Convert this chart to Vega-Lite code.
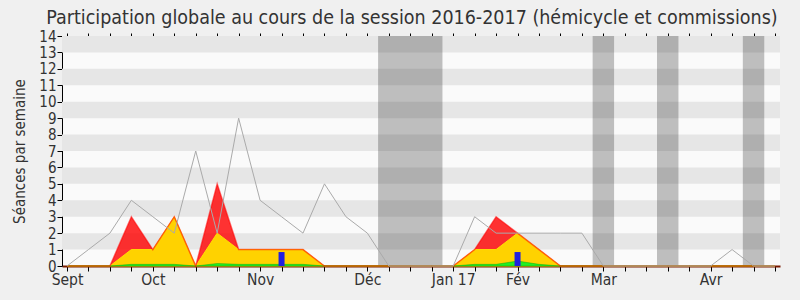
{
  "$schema": "https://vega.github.io/schema/vega-lite/v6.json",
  "autosize": "none",
  "width": 718,
  "height": 230,
  "padding": {"left": 62, "top": 36, "right": 20, "bottom": 34},
  "background": "#f0f0f0",
  "config": {
    "font": "DejaVu Sans Condensed, DejaVu Sans",
    "view": {"fill": "#fafafa", "stroke": null}
  },
  "title": {
    "text": "Participation globale au cours de la session 2016-2017 (hémicycle et commissions)",
    "font": "DejaVu Sans Condensed, DejaVu Sans",
    "fontSize": 19.5,
    "fontWeight": "normal",
    "color": "#333333",
    "anchor": "middle",
    "frame": "group",
    "offset": 1,
    "dx": -9
  },
  "datasets": {
    "semaines": [
      {"semaine": 0, "presence": 0, "commission": 0, "interventions": 0, "questions": 0, "mediane": 0},
      {"semaine": 1, "presence": 0, "commission": 0, "interventions": 0, "questions": 0, "mediane": 1},
      {"semaine": 2, "presence": 0, "commission": 0, "interventions": 0, "questions": 0, "mediane": 2},
      {"semaine": 3, "presence": 3, "commission": 1, "interventions": 0.1, "questions": 0, "mediane": 4},
      {"semaine": 4, "presence": 1, "commission": 1, "interventions": 0.1, "questions": 0, "mediane": 3},
      {"semaine": 5, "presence": 3, "commission": 3, "interventions": 0.1, "questions": 0, "mediane": 2},
      {"semaine": 6, "presence": 0, "commission": 0, "interventions": 0, "questions": 0, "mediane": 7},
      {"semaine": 7, "presence": 5, "commission": 2, "interventions": 0.15, "questions": 0, "mediane": 2},
      {"semaine": 8, "presence": 1, "commission": 1, "interventions": 0.1, "questions": 0, "mediane": 9},
      {"semaine": 9, "presence": 1, "commission": 1, "interventions": 0.1, "questions": 0, "mediane": 4},
      {"semaine": 10, "presence": 1, "commission": 1, "interventions": 0.1, "questions": 0.85, "mediane": 3},
      {"semaine": 11, "presence": 1, "commission": 1, "interventions": 0.1, "questions": 0, "mediane": 2},
      {"semaine": 12, "presence": 0, "commission": 0, "interventions": 0, "questions": 0, "mediane": 5},
      {"semaine": 13, "presence": 0, "commission": 0, "interventions": 0, "questions": 0, "mediane": 3},
      {"semaine": 14, "presence": 0, "commission": 0, "interventions": 0, "questions": 0, "mediane": 2},
      {"semaine": 15, "presence": 0, "commission": 0, "interventions": 0, "questions": 0, "mediane": 0},
      {"semaine": 16, "presence": 0, "commission": 0, "interventions": 0, "questions": 0, "mediane": 0},
      {"semaine": 17, "presence": 0, "commission": 0, "interventions": 0, "questions": 0, "mediane": 0},
      {"semaine": 18, "presence": 0, "commission": 0, "interventions": 0, "questions": 0, "mediane": 0},
      {"semaine": 19, "presence": 1, "commission": 1, "interventions": 0.1, "questions": 0, "mediane": 3},
      {"semaine": 20, "presence": 3, "commission": 1, "interventions": 0.1, "questions": 0, "mediane": 2},
      {"semaine": 21, "presence": 2, "commission": 2, "interventions": 0.3, "questions": 0.85, "mediane": 2},
      {"semaine": 22, "presence": 1, "commission": 1, "interventions": 0.1, "questions": 0, "mediane": 2},
      {"semaine": 23, "presence": 0, "commission": 0, "interventions": 0, "questions": 0, "mediane": 2},
      {"semaine": 24, "presence": 0, "commission": 0, "interventions": 0, "questions": 0, "mediane": 2},
      {"semaine": 25, "presence": 0, "commission": 0, "interventions": 0, "questions": 0, "mediane": 0},
      {"semaine": 26, "presence": 0, "commission": 0, "interventions": 0, "questions": 0, "mediane": 0},
      {"semaine": 27, "presence": 0, "commission": 0, "interventions": 0, "questions": 0, "mediane": 0},
      {"semaine": 28, "presence": 0, "commission": 0, "interventions": 0, "questions": 0, "mediane": 0},
      {"semaine": 29, "presence": 0, "commission": 0, "interventions": 0, "questions": 0, "mediane": 0},
      {"semaine": 30, "presence": 0, "commission": 0, "interventions": 0, "questions": 0, "mediane": 0},
      {"semaine": 31, "presence": 0, "commission": 0, "interventions": 0, "questions": 0, "mediane": 1},
      {"semaine": 32, "presence": 0, "commission": 0, "interventions": 0, "questions": 0, "mediane": 0},
      {"semaine": 33, "presence": 0, "commission": 0, "interventions": 0, "questions": 0, "mediane": 0}
    ],
    "bandes": [
      {"bas": 1, "haut": 2}, {"bas": 3, "haut": 4}, {"bas": 5, "haut": 6},
      {"bas": 7, "haut": 8}, {"bas": 9, "haut": 10}, {"bas": 11, "haut": 12},
      {"bas": 13, "haut": 14}
    ],
    "vacances": [
      {"debut": 14.5, "fin": 17.5},
      {"debut": 24.5, "fin": 25.5},
      {"debut": 27.5, "fin": 28.5},
      {"debut": 31.5, "fin": 32.5}
    ]
  },
  "resolve": {"scale": {"x": "shared", "y": "shared"}, "axis": {"x": "independent", "y": "independent"}},
  "layer": [
    {
      "data": {"name": "bandes"},
      "mark": {"type": "rect", "fill": "#e6e6e6"},
      "encoding": {
        "y": {
          "field": "bas", "type": "quantitative",
          "scale": {"domain": [0, 14], "nice": false, "zero": true},
          "axis": {
            "values": [0, 1, 2, 3, 4, 5, 6, 7, 8, 9, 10, 11, 12, 13, 14],
            "title": "Séances par semaine",
            "titleFont": "DejaVu Sans Condensed, DejaVu Sans",
            "titleFontSize": 15,
            "titleFontWeight": "normal",
            "titleColor": "#333333",
            "titlePadding": 11,
            "labelFont": "DejaVu Sans Condensed, DejaVu Sans",
            "labelFontSize": 15,
            "labelColor": "#333333",
            "labelPadding": 1,
            "labelOverlap": false,
            "labelFlush": false,
            "tickColor": "#000000",
            "tickSize": 5,
            "domainColor": "#000000",
            "grid": false
          }
        },
        "y2": {"field": "haut"}
      }
    },
    {
      "data": {"name": "vacances"},
      "mark": {"type": "rect", "fill": "#000000", "opacity": 0.24},
      "encoding": {
        "x": {
          "field": "debut", "type": "quantitative",
          "scale": {"domain": [0, 33], "nice": false, "zero": false},
          "axis": {
            "orient": "top",
            "values": [0, 1, 2, 3, 4, 5, 6, 7, 8, 9, 10, 11, 12, 13, 14, 15, 16, 17, 18, 19, 20, 21, 22, 23, 24, 25, 26, 27, 28, 29, 30, 31, 32, 33],
            "labels": false,
            "domain": false,
            "grid": false,
            "title": null,
            "tickColor": "#000000",
            "tickSize": 3
          }
        },
        "x2": {"field": "fin"}
      }
    },
    {
      "data": {"name": "semaines"},
      "mark": {"type": "area", "fill": "#ff0000", "fillOpacity": 0.8},
      "encoding": {
        "x": {
          "field": "semaine", "type": "quantitative",
          "scale": {"domain": [0, 33], "nice": false, "zero": false},
          "axis": {
            "orient": "bottom",
            "values": [0, 1, 2, 3, 4, 5, 6, 7, 8, 9, 10, 11, 12, 13, 14, 15, 16, 17, 18, 19, 20, 21, 22, 23, 24, 25, 26, 27, 28, 29, 30, 31, 32, 33],
            "labelExpr": "datum.value == 0 ? 'Sept' : datum.value == 4 ? 'Oct' : datum.value == 9 ? 'Nov' : datum.value == 14 ? 'Déc' : datum.value == 18 ? 'Jan 17' : datum.value == 21 ? 'Fév' : datum.value == 25 ? 'Mar' : datum.value == 30 ? 'Avr' : ''",
            "labelFont": "DejaVu Sans Condensed, DejaVu Sans",
            "labelFontSize": 15.5,
            "labelColor": "#333333",
            "labelPadding": 1,
            "labelOverlap": false,
            "labelFlush": false,
            "title": null,
            "grid": false,
            "tickColor": "#000000",
            "tickSize": 5,
            "domainColor": "#7a1a00",
            "domainWidth": 2
          }
        },
        "y": {"field": "presence", "type": "quantitative", "scale": {"domain": [0, 14], "nice": false}, "axis": null}
      }
    },
    {
      "data": {"name": "semaines"},
      "mark": {"type": "area", "fill": "#ffd200", "stroke": "#ffe000", "strokeWidth": 1},
      "encoding": {
        "x": {"field": "semaine", "type": "quantitative", "scale": {"domain": [0, 33], "nice": false, "zero": false}, "axis": null},
        "y": {"field": "commission", "type": "quantitative", "scale": {"domain": [0, 14], "nice": false}, "axis": null}
      }
    },
    {
      "data": {"name": "semaines"},
      "mark": {"type": "area", "fill": "#22ee22", "stroke": "#11aa11", "strokeWidth": 0.5},
      "encoding": {
        "x": {"field": "semaine", "type": "quantitative", "scale": {"domain": [0, 33], "nice": false, "zero": false}, "axis": null},
        "y": {"field": "interventions", "type": "quantitative", "scale": {"domain": [0, 14], "nice": false}, "axis": null}
      }
    },
    {
      "data": {"name": "semaines"},
      "mark": {"type": "line", "stroke": "#ff0000", "strokeWidth": 1.5, "opacity": 0.55},
      "encoding": {
        "x": {"field": "semaine", "type": "quantitative", "scale": {"domain": [0, 33], "nice": false, "zero": false}, "axis": null},
        "y": {"field": "presence", "type": "quantitative", "scale": {"domain": [0, 14], "nice": false}, "axis": null}
      }
    },
    {
      "data": {"name": "semaines"},
      "transform": [{"filter": "datum.questions > 0"}],
      "mark": {"type": "bar", "fill": "#2020e0", "size": 6},
      "encoding": {
        "x": {"field": "semaine", "type": "quantitative", "scale": {"domain": [0, 33], "nice": false, "zero": false}, "axis": null},
        "y": {"field": "questions", "type": "quantitative", "scale": {"domain": [0, 14], "nice": false}, "axis": null}
      }
    },
    {
      "data": {"name": "semaines"},
      "mark": {"type": "line", "stroke": "#aaaaaa", "strokeWidth": 1},
      "encoding": {
        "x": {"field": "semaine", "type": "quantitative", "scale": {"domain": [0, 33], "nice": false, "zero": false}, "axis": null},
        "y": {"field": "mediane", "type": "quantitative", "scale": {"domain": [0, 14], "nice": false}, "axis": null}
      }
    }
  ]
}
